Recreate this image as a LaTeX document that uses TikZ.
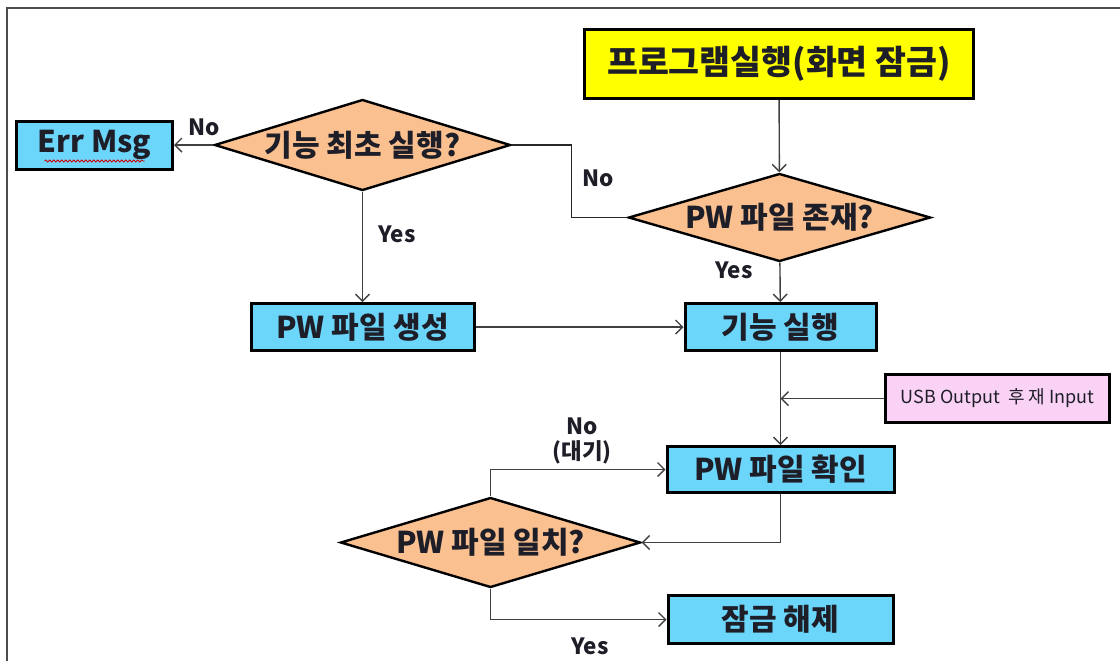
\documentclass[tikz,border=0pt]{standalone}
\usepackage{fontspec}
\setmainfont{Noto Sans CJK KR}
\usepackage{tikz}
\usetikzlibrary{shapes.geometric,arrows.meta,decorations.pathmorphing}
\definecolor{boxblue}{RGB}{108,214,250}
\definecolor{decorange}{RGB}{250,192,144}
\definecolor{startyellow}{RGB}{255,255,0}
\definecolor{notepink}{RGB}{250,210,245}
\definecolor{textdark}{RGB}{30,30,40}
\tikzstyle{procbox} = [draw=black, fill=boxblue, line width=1.5pt,
    rectangle, inner sep=0pt, text=textdark, font=\fontsize{15}{17}\selectfont\bfseries]
\tikzstyle{startbox} = [procbox, fill=startyellow, font=\fontsize{16.8}{19}\selectfont\bfseries]
\tikzstyle{notebox} = [procbox, fill=notepink, font=\fontsize{9}{11}\selectfont]
\tikzstyle{decision} = [draw=black, fill=decorange, line width=1.2pt,
    diamond, inner sep=0pt, text=textdark, font=\fontsize{15}{17}\selectfont\bfseries]
\tikzstyle{flow} = [draw=black!75, line width=0.7pt, -{Straight Barb[length=3.5pt,width=7pt]}]
\tikzstyle{plain} = [draw=black!85, line width=0.7pt]
\tikzstyle{lbl} = [text=textdark, font=\fontsize{11.2}{12.5}\selectfont\bfseries, align=center]
\tikzstyle{squiggle} = [draw=red!80!black, line width=0.4pt,
    decorate, decoration={snake, amplitude=0.5pt, segment length=2pt}]

\begin{document}
\begin{tikzpicture}[x=0.5pt,y=-0.5pt]
\useasboundingbox (0,0) rectangle (1120,661);
\draw[line width=1pt, black!70] (7,661) -- (7,8) -- (1120,8);

\node[startbox, minimum width=194.5pt, minimum height=34.5pt] (start) at (779,64) {프로그램실행(화면 잠금)};
\node[decision, minimum width=148pt, minimum height=45.5pt] (firstrun) at (362.5,145) {\makebox[0pt]{기능 최초 실행?}};
\node[procbox, minimum width=78pt, minimum height=24pt] (errmsg) at (94.5,145) {Err Msg};
\node[decision, minimum width=151pt, minimum height=44pt] (pwexist) at (779.5,217.5) {\makebox[0pt]{PW 파일 존재?}};
\node[procbox, minimum width=111.5pt, minimum height=23.5pt] (mkpw) at (362.5,327) {PW 파일 생성};
\node[procbox, minimum width=95.5pt, minimum height=23.5pt] (run) at (780.5,327) {기능 실행};
\node[notebox, minimum width=112pt, minimum height=24pt] (usb) at (997.5,398.5) {USB Output\ \ 후 재 Input};
\node[procbox, minimum width=113.5pt, minimum height=23pt] (pwcheck) at (780.5,469.5) {PW 파일 확인};
\node[decision, minimum width=150pt, minimum height=45pt] (pwmatch) at (490.5,542.5) {\makebox[0pt]{PW 파일 일치?}};
\node[procbox, minimum width=112.5pt, minimum height=24pt] (unlock) at (780.5,619.5) {잠금 해제};

\draw[squiggle] ([shift={(-50,16)}]errmsg.center) -- ([shift={(50,16)}]errmsg.center);

\draw[flow] (start) -- (pwexist);
\draw[flow] (firstrun) -- (errmsg);
\draw[plain] (pwexist.west) -- ++(-56,0) |- (firstrun.east);
\draw[flow] (firstrun) -- (mkpw);
\draw[flow] (pwexist) -- (run);
\draw[flow] (mkpw) -- (run);
\draw[flow] (run) -- (pwcheck);
\draw[flow] (usb) -- (usb -| run);
\draw[flow] (pwcheck.south) |- (pwmatch.east);
\draw[flow] (pwmatch.north) |- (pwcheck.west);
\draw[flow] (pwmatch.south) |- (unlock.west);

\node[lbl] (nofirst) at (204,127) {No};
\node[lbl] (noexist) at (598,178) {No};
\node[lbl] (yesfirst) at (397,234) {Yes};
\node[lbl] (yesexist) at (734,270) {Yes};
\node[lbl] (nomatch) at (582,441) {No\\(대기)};
\node[lbl] (yesmatch) at (590,646) {Yes};
\end{tikzpicture}
\end{document}
